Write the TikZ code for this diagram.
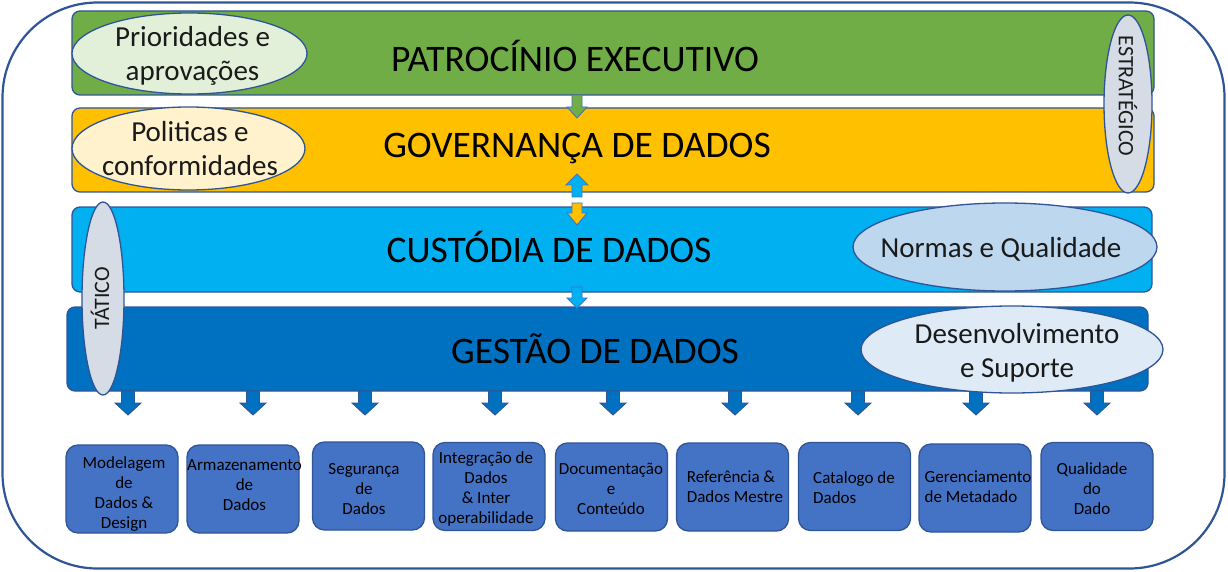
\documentclass[tikz,border=0pt]{standalone}
\usepackage{fontspec}
\setmainfont{Carlito}
\usetikzlibrary{shapes.geometric}
\definecolor{outl}{HTML}{2F5597}
\definecolor{gbar}{HTML}{70AD47}
\definecolor{ybar}{HTML}{FFC000}
\definecolor{cbar}{HTML}{00B0F0}
\definecolor{dbar}{HTML}{0070C0}
\definecolor{boxf}{HTML}{4472C4}
\definecolor{egreen}{HTML}{E2F0D9}
\definecolor{eyellow}{HTML}{FFF2CC}
\definecolor{egray}{HTML}{D6DCE5}
\definecolor{eblue}{HTML}{BDD7EE}
\definecolor{elight}{HTML}{DEEBF7}
\definecolor{txt}{HTML}{1A1A1A}
\definecolor{arrline}{HTML}{4472C4}
% fill, x, base, head start, tip, shaft width, head width, outline
\newcommand\blkarr[8]{%
  \draw[line width=0.9pt, draw=#8, fill=#1, line join=miter]
    (#2-#6/2,#3) -- (#2+#6/2,#3) -- (#2+#6/2,#4) -- (#2+#7/2,#4) -- (#2,#5)
    -- (#2-#7/2,#4) -- (#2-#6/2,#4) -- cycle;}
\begin{document}
\begin{tikzpicture}[x=1pt,y=-1pt,
  bar/.style={draw=outl, line width=1.3pt, rounded corners=8pt, inner sep=0pt},
  ell/.style={ellipse, draw=outl, line width=1.3pt, inner sep=0pt},
  title/.style={font=\fontsize{37.5}{44}\selectfont, text=black, inner sep=0pt, anchor=base},
  etext/.style={font=\fontsize{29}{34}\selectfont, text=txt, align=center, inner sep=0pt},
  vtext/.style={font=\fontsize{22}{26}\selectfont, text=txt, inner sep=0pt},
  sbox/.style={draw=outl, fill=boxf, line width=1.3pt, rounded corners=12pt, inner sep=0pt, minimum width=112pt, minimum height=88pt},
  btext/.style={font=\fontsize{17}{20}\selectfont, text=black, inner sep=0pt},
]
\useasboundingbox (0,0) rectangle (1228,572);
% outer frame
\node[draw=outl, line width=2.2pt, rounded corners=95pt, minimum width=1222pt, minimum height=566pt, inner sep=0pt] (frame) at (613.5,285.5) {};
% bars
\node[bar, fill=gbar, minimum width=1082pt, minimum height=84pt] (green) at (613,53) {};
\node[bar, fill=ybar, minimum width=1082pt, minimum height=84pt] (yellow) at (613,150) {};
\node[bar, fill=cbar, minimum width=1080pt, minimum height=85pt] (cyan) at (612,249.5) {};
\node[bar, fill=dbar, minimum width=1081pt, minimum height=84pt] (dark) at (607.5,349) {};
% arrows between bars
\blkarr{gbar}{577}{95}{107}{118}{10}{20}{arrline}
\blkarr{cbar}{577}{197}{185}{174}{10}{22}{arrline}
\blkarr{ybar}{577}{203}{213}{225}{10}{20}{arrline}
\blkarr{cbar}{577}{287}{298}{308}{10}{20}{arrline}
% arrows to the boxes
\foreach \ax in {128,253,365,495,613,735,858,976,1097}
  {\blkarr{dbar}{\ax}{391}{403}{415}{13}{26}{outl}}
% titles
\node[title] (t1) at (575,72) {PATROCÍNIO EXECUTIVO};
\node[title] (t2) at (577,158) {GOVERNANÇA DE DADOS};
\node[title] (t3) at (549,262) {CUSTÓDIA DE DADOS};
\node[title] (t4) at (595,363) {GESTÃO DE DADOS};
% ellipses
\node[ell, fill=egreen, minimum width=235pt, minimum height=81pt] (e1) at (189.5,53.5) {};
\node[etext] (e1t) at (192.5,55.5) {Prioridades e\\aprovações};
\node[ell, fill=eyellow, minimum width=233pt, minimum height=83pt] (e2) at (188.5,148.5) {};
\node[etext] (e2t) at (190,149) {Politicas e\\conformidades};
\node[ell, fill=egray, minimum width=48pt, minimum height=178pt] (estr) at (1128,104) {};
\node[vtext, rotate=-90] (estrt) at (1128,96) {ESTRATÉGICO};
\node[ell, fill=egray, minimum width=42pt, minimum height=193pt] (tat) at (103,298.5) {};
\node[vtext, rotate=90] (tatt) at (100,298.5) {TÁTICO};
\node[ell, fill=eblue, minimum width=304pt, minimum height=88pt] (norm) at (1005,247) {};
\node[etext] (normt) at (1001,249) {Normas e Qualidade};
\node[ell, fill=elight, minimum width=302pt, minimum height=87pt] (dev) at (1012,349.5) {};
\node[etext] (devt) at (1017,352.8) {Desenvolvimento\\e Suporte};
% bottom boxes
\node[sbox] (b1) at (122,489) {};
\node[sbox] (b2) at (243,489) {};
\node[sbox] (b3) at (368.5,486) {};
\node[sbox] (b4) at (489,486.5) {};
\node[sbox] (b5) at (611.5,487) {};
\node[sbox] (b6) at (732.5,487) {};
\node[sbox] (b7) at (854.5,486.5) {};
\node[sbox] (b8) at (975,488) {};
\node[sbox] (b9) at (1097,486.5) {};
\node[btext, align=center] (b1t) at (124,493.7) {Modelagem\\de\\Dados \&\\Design};
\node[btext, align=center] (b2t) at (244.5,484.7) {Armazenamento\\de\\Dados};
\node[btext, align=center] (b3t) at (364,489.2) {Segurança\\de\\Dados};
\node[btext, align=center] (b4t) at (486,489.2) {Integração de\\Dados\\\& Inter\\operabilidade};
\node[btext, align=center] (b5t) at (611,488.7) {Documentação\\e\\Conteúdo};
\node[btext, align=left] (b6t) at (735,487.2) {Referência \&\\Dados Mestre};
\node[btext, align=left] (b7t) at (854,487.7) {Catalogo de\\Dados};
\node[btext, align=left] (b8t) at (978,486.5) {Gerenciamento\\de Metadado};
\node[btext, align=center] (b9t) at (1092,488.7) {Qualidade\\do\\Dado};
\end{tikzpicture}
\end{document}
